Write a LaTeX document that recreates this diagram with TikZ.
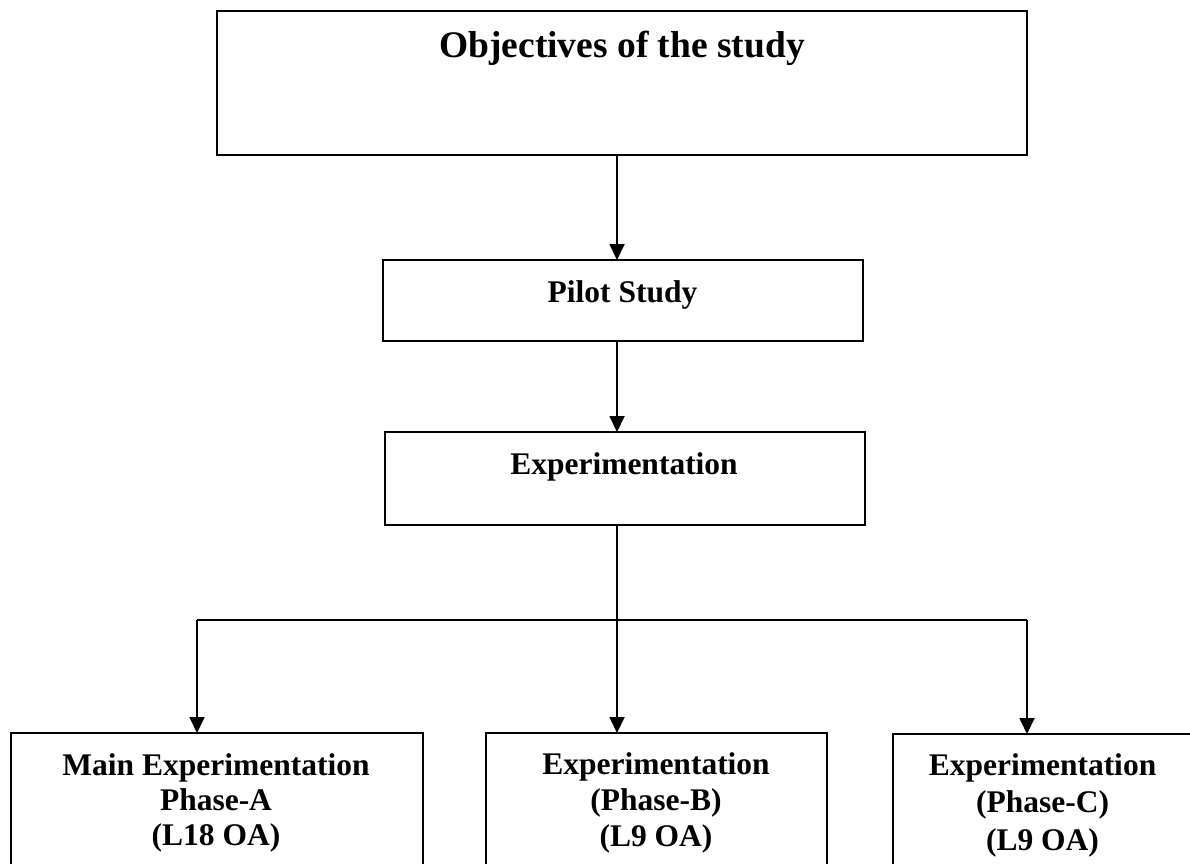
\documentclass[tikz,border=0pt]{standalone}
\usepackage{fontspec}
\setmainfont{Liberation Serif}
\usetikzlibrary{arrows.meta}
\begin{document}
\begin{tikzpicture}[x=1pt,y=-1pt,
  box/.style={draw=black,line width=2.2pt},
  conn/.style={line width=1.8pt},
  arr/.style={conn,-{Triangle[length=16pt,width=15pt]}},
  bigtxt/.style={anchor=base,inner sep=0pt,font=\fontsize{37.5}{42}\selectfont\bfseries},
  txt/.style={anchor=base,inner sep=0pt,font=\fontsize{31.5}{35}\selectfont\bfseries}]
\useasboundingbox (0,0) rectangle (1190,863);
\clip (0,0) rectangle (1190,863);
% boxes
\path[box] (217,11) rectangle (1027,155);
\coordinate (objS) at (617,155);
\path[box] (383,260) rectangle (863,341);
\coordinate (pilN) at (617,260);
\coordinate (pilS) at (617,341);
\path[box] (385,432) rectangle (865,525);
\coordinate (expN) at (617,432);
\coordinate (expS) at (617,525);
\path[box] (11,733) rectangle (423,900);
\path[box] (486,733) rectangle (827,900);
\path[box] (893,734) rectangle (1192,900);
\coordinate (aN) at (197,733);
\coordinate (bN) at (617,733);
\coordinate (cN) at (1027,734);
\coordinate (split) at (617,620);
\coordinate (splitL) at (197,620);
\coordinate (splitR) at (1027,620);
% texts
\node[bigtxt] (obj) at (622,57) {Objectives of the study};
\node[txt] (pil) at (622.5,302) {Pilot Study};
\node[txt] (exp) at (624,474) {Experimentation};
\node[txt] (a1) at (216,775) {Main Experimentation};
\node[txt] (a2) at (216,810) {Phase-A};
\node[txt] (a3) at (216,845) {(L18 OA)};
\node[txt] (b1) at (656,774) {Experimentation};
\node[txt] (b2) at (656,810) {(Phase-B)};
\node[txt] (b3) at (656,846) {(L9 OA)};
\node[txt] (c1) at (1042.5,775) {Experimentation};
\node[txt] (c2) at (1042.5,812.5) {(Phase-C)};
\node[txt] (c3) at (1042.5,850) {(L9 OA)};
% connectors
\draw[arr] (objS) -- (pilN);
\draw[arr] (pilS) -- (expN);
\draw[conn] (expS) -- (split);
\draw[conn] (splitL) -- (splitR);
\draw[arr] (splitL) -- (aN);
\draw[arr] (split) -- (bN);
\draw[arr] (splitR) -- (cN);
\end{tikzpicture}
\end{document}
